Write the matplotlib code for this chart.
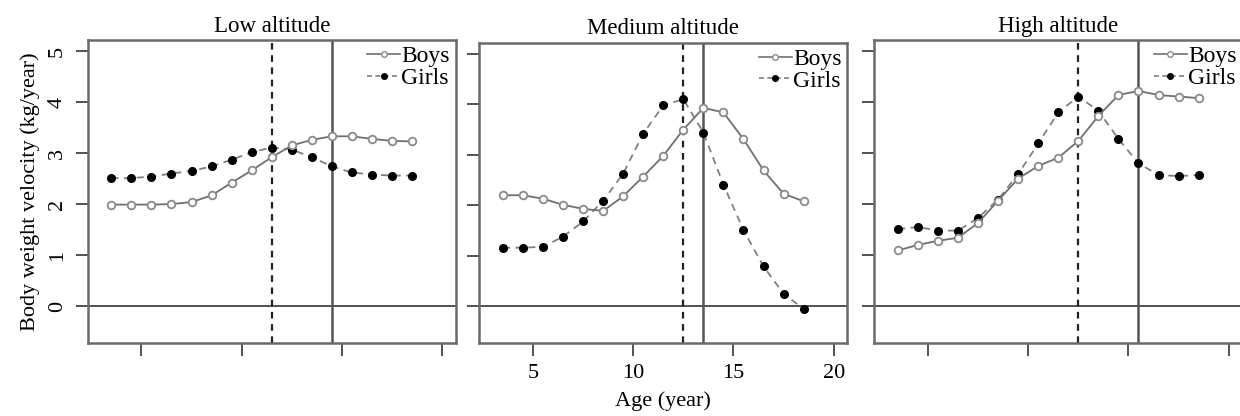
import matplotlib.pyplot as plt
from matplotlib.lines import Line2D

plt.rcParams['font.family'] = ['Liberation Serif', 'DejaVu Serif']
plt.rcParams['font.size'] = 16

ages = [3.5, 4.5, 5.5, 6.5, 7.5, 8.5, 9.5, 10.5, 11.5, 12.5, 13.5, 14.5, 15.5, 16.5, 17.5, 18.5]

titles = ['Low altitude', 'Medium altitude', 'High altitude']

boys_low = [1.99, 1.99, 1.99, 2.00, 2.04, 2.17, 2.42, 2.66, 2.92, 3.15, 3.26, 3.33, 3.33, 3.28, 3.24, 3.23]
girls_low = [2.51, 2.51, 2.54, 2.60, 2.65, 2.74, 2.87, 3.02, 3.11, 3.07, 2.92, 2.74, 2.62, 2.58, 2.56, 2.56]

boys_med = [2.20, 2.20, 2.13, 2.01, 1.93, 1.89, 2.18, 2.57, 2.98, 3.50, 3.93, 3.84, 3.31, 2.69, 2.23, 2.08]
girls_med = [1.16, 1.16, 1.18, 1.38, 1.68, 2.09, 2.63, 3.42, 3.98, 4.10, 3.44, 2.41, 1.51, 0.79, 0.25, -0.05]

boys_high = [1.09, 1.20, 1.28, 1.34, 1.63, 2.07, 2.50, 2.75, 2.91, 3.24, 3.73, 4.14, 4.22, 4.14, 4.11, 4.08]
girls_high = [1.51, 1.55, 1.48, 1.48, 1.73, 2.09, 2.59, 3.19, 3.80, 4.11, 3.83, 3.28, 2.80, 2.57, 2.55, 2.57]

# age at peak velocity (girls dashed, boys solid)
phv_girls = [11.5, 12.5, 12.5]
phv_boys = [14.5, 13.5, 15.5]

boys_all = [boys_low, boys_med, boys_high]
girls_all = [girls_low, girls_med, girls_high]

W, H = 1240, 416
fig = plt.figure(figsize=(W / 100, H / 100), dpi=100)

# axes boxes in pixels: left, top, right, bottom
boxes = [(87.7, 40, 455.7, 342.7),
         (479.3, 42.7, 847.3, 342.7),
         (874.3, 40, 1242.3, 342.7)]

box_col = '#6a6a6a'

for i in range(3):
    l, t, r, b = boxes[i]
    ax = fig.add_axes([l / W, (H - b) / H, (r - l) / W, (b - t) / H])

    ax.axhline(0, color='#444444', lw=1.3, zorder=1)
    ax.axvline(phv_girls[i], color='#222222', lw=1.6, ls=(0, (3, 2.5)), zorder=1)
    ax.axvline(phv_boys[i], color='#555555', lw=1.8, zorder=1)

    ax.plot(ages, girls_all[i], color='#808080', lw=1.3, ls=(0, (4, 3)),
            marker='o', markersize=5.5, markerfacecolor='black',
            markeredgecolor='black', zorder=3)
    ax.plot(ages, boys_all[i], color='#707070', lw=1.3, ls='-',
            marker='o', markersize=5.5, markerfacecolor='white',
            markeredgecolor='#8a8a8a', markeredgewidth=1.3, zorder=4)

    ax.set_xlim(2.32, 20.68)
    ax.set_ylim(-0.72, 5.22)
    ax.set_xticks([5, 10, 15, 20])
    ax.set_yticks([0, 1, 2, 3, 4, 5])
    ax.tick_params(direction='out', length=9, width=1.3, color='#444444',
                   pad=6)

    if i == 0:
        ax.set_yticklabels(['0', '1', '2', '3', '4', '5'], rotation=90, va='center')
        ax.set_ylabel('Body weight velocity (kg/year)', labelpad=6)
    else:
        ax.set_yticklabels([])
    if i == 1:
        ax.set_xticklabels(['5', '10', '15', '20'])
        ax.set_xlabel('Age (year)', labelpad=6)
    else:
        ax.set_xticklabels([])

    for sp in ax.spines.values():
        sp.set_color(box_col)
        sp.set_linewidth(1.8)

    ax.set_title(titles[i], pad=6, fontsize=16.5)

    h_boys = Line2D([], [], color='#707070', lw=1.2, marker='o', markersize=4,
                    markerfacecolor='white', markeredgecolor='#8a8a8a')
    h_girls = Line2D([], [], color='#808080', lw=1.2, ls=(0, (3, 2)), marker='o',
                     markersize=4, markerfacecolor='black', markeredgecolor='black')
    ax.legend([h_boys, h_girls], ['Boys', 'Girls'], loc='upper right',
              frameon=False, handlelength=1.4, handletextpad=0.05,
              labelspacing=0.0, borderaxespad=0.15, borderpad=0.1,
              fontsize=17)

fig.savefig('out.png', dpi=100)
